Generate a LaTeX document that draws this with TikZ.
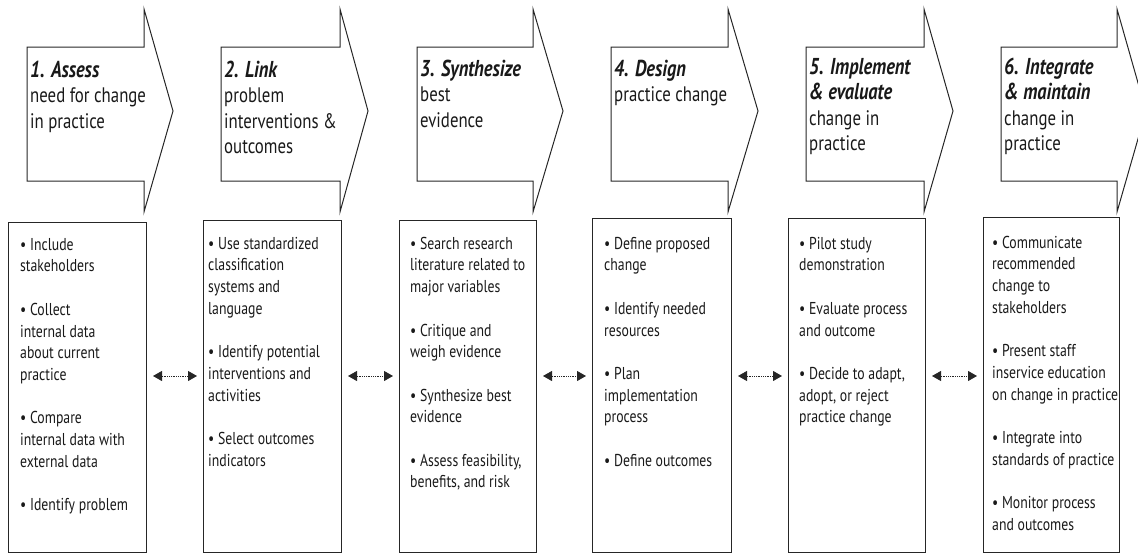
\documentclass[tikz,border=0pt]{standalone}
\usepackage{fontspec}
\setmainfont{PT Sans}[FakeStretch=0.8]
\usetikzlibrary{arrows.meta}
\tikzset{
  chev/.style={draw=black!85, line width=1pt, line join=miter},
  lowbox/.style={draw=black!85, line width=1pt, anchor=north west, inner sep=0pt},
  steptext/.style={anchor=north west, align=left, inner sep=0pt, text=black!90,
    font=\fontsize{21}{25.5}\selectfont},
  listtext/.style={anchor=north west, align=left, inner sep=0pt, text=black!90,
    font=\fontsize{17.2}{21.7}\selectfont},
  link/.style={{Triangle[length=9pt,width=10pt]}-{Triangle[length=9pt,width=10pt]},
    densely dotted, line width=0.8pt, black!85, shorten <=6pt, shorten >=6pt}
}
% first lines get a fixed height, so that a node's top lies a fixed distance above its first baseline
\newcommand{\ttl}[1]{{\fontsize{23}{25.5}\selectfont\bfseries\itshape #1}}
\newcommand{\hd}{\rule{0pt}{20pt}}% title line: top 20pt above baseline
\newcommand{\ld}{\rule{0pt}{16pt}}% list first line: top 16pt above baseline
\newcommand{\chevron}[4]{% name, left, right, tip
  \draw[chev] (#2,47) coordinate (#1nw) -- (#3,47) -- (#3,9) -- (#4,111) coordinate (#1tip)
    -- (#3,212) -- (#3,181) -- (#2,181) coordinate (#1sw) -- cycle;}
\begin{document}
\begin{tikzpicture}[x=1pt,y=-1pt]
\useasboundingbox (0,0) rectangle (1138,554);
\clip (0,0) rectangle (1138,554);

% chevrons
\chevron{c1}{27}{144}{173}
\chevron{c2}{221}{340}{368}
\chevron{c3}{417}{533}{563}
\chevron{c4}{611}{728}{758}
\chevron{c5}{806}{924}{953}
\chevron{c6}{1001}{1117}{1146}

% chevron texts (first baseline = given y + 20)
\node[steptext] (t1) at (30,57) {\hd\ttl{1. Assess}\\need for change\\in practice};
\node[steptext] (t2) at (224,57) {\hd\ttl{2. Link}\\problem\\interventions \&\\outcomes};
\node[steptext] (t3) at (420,56) {\hd\ttl{3. Synthesize}\\best\\evidence};
\node[steptext] (t4) at (614,56) {\hd\ttl{4. Design}\\practice change};
\node[steptext] (t5) at (809,54) {\hd\ttl{5. Implement}\\\ttl{\& evaluate}\\change in\\practice};
\node[steptext] (t6) at (1004,54) {\hd\ttl{6. Integrate}\\\ttl{\& maintain}\\change in\\practice};

% lower boxes
\node[lowbox, minimum width=138pt, minimum height=330pt] (b1) at (8,222) {};
\node[lowbox, minimum width=138pt, minimum height=332pt] (b2) at (203,220) {};
\node[lowbox, minimum width=137pt, minimum height=332pt] (b3) at (399,220) {};
\node[lowbox, minimum width=139pt, minimum height=334pt] (b4) at (592,218) {};
\node[lowbox, minimum width=137pt, minimum height=334pt] (b5) at (788,218) {};
\node[lowbox, minimum width=136pt, minimum height=335pt] (b6) at (983,217) {};

% lower texts (first baseline = given y + 16)
\node[listtext] (l1) at (20,234) {%
  \ld• Include\\stakeholders\\[21.7pt]
  • Collect\\internal data\\about current\\practice\\[21.7pt]
  • Compare\\internal data with\\external data\\[21.7pt]
  • Identify problem};
\node[listtext] (l2) at (208,233) {%
  \ld• Use standardized\\classification\\systems and\\language\\[21.7pt]
  • Identify potential\\interventions and\\activities\\[21.7pt]
  • Select outcomes\\indicators};
\node[listtext] (l3) at (410,233) {%
  \ld• Search research\\literature related to\\major variables\\[21.7pt]
  • Critique and\\weigh evidence\\[21.7pt]
  • Synthesize best\\evidence\\[21.7pt]
  • Assess feasibility,\\benefits, and risk};
\node[listtext] (l4) at (604,233) {%
  \ld• Define proposed\\change\\[21.7pt]
  • Identify needed\\resources\\[21.7pt]
  • Plan\\implementation\\process\\[21.7pt]
  • Define outcomes};
\node[listtext] (l5) at (799,233) {%
  \ld• Pilot study\\demonstration\\[21.7pt]
  • Evaluate process\\and outcome\\[21.7pt]
  • Decide to adapt,\\adopt, or reject\\practice change};
\node[listtext] (l6) at (992,232) {%
  \ld• Communicate\\recommended\\change to\\stakeholders\\[21.7pt]
  • Present staff\\inservice education\\on change in practice\\[21.7pt]
  • Integrate into\\standards of practice\\[21.7pt]
  • Monitor process\\and outcomes};

% connectors
\coordinate (ay) at (0,376);
\draw[link] (b1.east |- ay) -- (b2.west |- ay);
\draw[link] (b2.east |- ay) -- (b3.west |- ay);
\draw[link] (b3.east |- ay) -- (b4.west |- ay);
\draw[link] (b4.east |- ay) -- (b5.west |- ay);
\draw[link] (b5.east |- ay) -- (b6.west |- ay);
\end{tikzpicture}
\end{document}
